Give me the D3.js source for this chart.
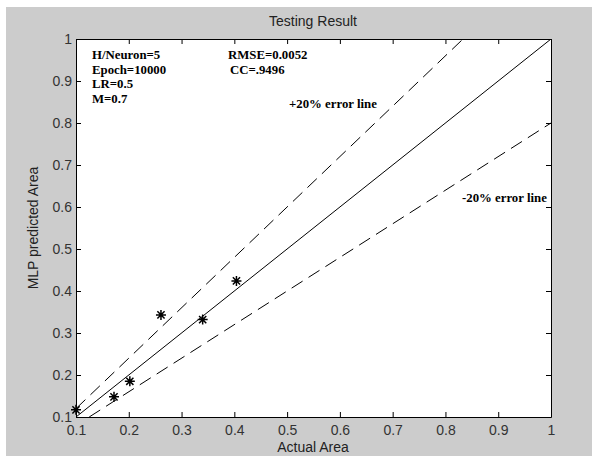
<!DOCTYPE html>
<html>
<head>
<meta charset="utf-8">
<script src="https://cdn.jsdelivr.net/npm/d3@7"></script>
<style>
  body { margin: 0; background: #fff; }
  svg text { font-family: "Liberation Sans", Arial, sans-serif; }
  .note { font-family: "Liberation Serif", "Times New Roman", serif !important; font-weight: bold; font-size: 12.8px; }
</style>
</head>
<body>
<svg id="chart" width="592" height="456"></svg>
<script>
// measured points (actual vs predicted)
const actual    = [0.1, 0.172, 0.202, 0.261, 0.34, 0.404];
const predicted = [0.117, 0.148, 0.185, 0.343, 0.332, 0.424];
const ticks = [0.1, 0.2, 0.3, 0.4, 0.5, 0.6, 0.7, 0.8, 0.9, 1];
const notesLeft = ["H/Neuron=5", "Epoch=10000", "LR=0.5", "M=0.7"];
const notesRight = ["RMSE=0.0052", "CC=.9496"];

const svg = d3.select("#chart");
const pL = 76, pR = 551, pT = 39, pB = 417;

// gray figure background
svg.append("rect").attr("x", 6).attr("y", 7).attr("width", 586).attr("height", 449).attr("fill", "#cccccc");
svg.append("rect").attr("x", pL).attr("y", pT).attr("width", pR - pL).attr("height", pB - pT).attr("fill", "#fff");

const x = d3.scaleLinear().domain([0.1, 1]).range([pL, pR]);
const y = d3.scaleLinear().domain([0.1, 1]).range([pB, pT]);

const tf = d => d === 1 ? "1" : d3.format(".1f")(d);

// axes, ticks inside like matlab
svg.append("g").attr("transform", "translate(0," + pB + ")")
  .call(d3.axisBottom(x).tickValues(ticks).tickFormat(tf).tickSizeInner(-5).tickSizeOuter(0).tickPadding(8));
svg.append("g").attr("transform", "translate(" + pL + ",0)")
  .call(d3.axisLeft(y).tickValues(ticks).tickFormat(tf).tickSizeInner(-5).tickSizeOuter(0).tickPadding(4));
svg.append("g").attr("transform", "translate(0," + pT + ")")
  .call(d3.axisTop(x).tickValues(ticks).tickFormat("").tickSizeInner(-5).tickSizeOuter(0));
svg.append("g").attr("transform", "translate(" + pR + ",0)")
  .call(d3.axisRight(y).tickValues(ticks).tickFormat("").tickSizeInner(-5).tickSizeOuter(0));
svg.selectAll(".domain").attr("stroke", "#000");
svg.selectAll(".tick line").attr("stroke", "#000");
svg.selectAll(".tick text").attr("font-size", 14).attr("fill", "#333")
  .attr("font-family", "Liberation Sans, Arial, sans-serif");

// clip for lines
svg.append("clipPath").attr("id", "clip").append("rect")
  .attr("x", pL).attr("y", pT).attr("width", pR - pL).attr("height", pB - pT);

const line = d3.line().x(d => x(d[0])).y(d => y(d[1]));
const g = svg.append("g").attr("clip-path", "url(#clip)");
g.append("path").attr("d", line([[0.1, 0.1], [1, 1]])).attr("stroke", "#000").attr("fill", "none").attr("stroke-width", 1);
g.append("path").attr("d", line([[0.1, 0.12], [1 / 1.2, 1]])).attr("stroke", "#000").attr("fill", "none")
  .attr("stroke-dasharray", "13,7");
g.append("path").attr("d", line([[0.125, 0.1], [1, 0.8]])).attr("stroke", "#000").attr("fill", "none")
  .attr("stroke-dasharray", "13,7");

// star markers
const pts = actual.map((a, i) => [a, predicted[i]]);
const star = svg.append("g").selectAll("g").data(pts).enter().append("g")
  .attr("transform", d => "translate(" + x(d[0]) + "," + y(d[1]) + ")");
star.append("path").attr("d", "M-5,0H5M0,-5V5M-3.6,-3.6L3.6,3.6M-3.6,3.6L3.6,-3.6")
  .attr("stroke", "#000").attr("stroke-width", 1.5);

// annotations
svg.selectAll(".nl").data(notesLeft).enter().append("text").attr("class", "note")
  .attr("x", 92).attr("y", (d, i) => 59 + i * 14.7).text(d => d);
svg.selectAll(".nr").data(notesRight).enter().append("text").attr("class", "note")
  .attr("x", (d, i) => i ? 230 : 228).attr("y", (d, i) => 59 + i * 15).text(d => d);
svg.append("text").attr("class", "note").attr("x", 289).attr("y", 108).text("+20% error line");
svg.append("text").attr("class", "note").attr("x", 462).attr("y", 202).text("-20% error line");

// titles
svg.append("text").attr("x", 313).attr("y", 26).attr("text-anchor", "middle").attr("font-size", 14).attr("fill", "#222").text("Testing Result");
svg.append("text").attr("x", 313).attr("y", 452).attr("text-anchor", "middle").attr("font-size", 14).attr("fill", "#222").text("Actual Area");
svg.append("text").attr("transform", "translate(38,228) rotate(-90)").attr("text-anchor", "middle")
  .attr("font-size", 14).attr("fill", "#222").text("MLP predicted Area");
</script>
</body>
</html>
